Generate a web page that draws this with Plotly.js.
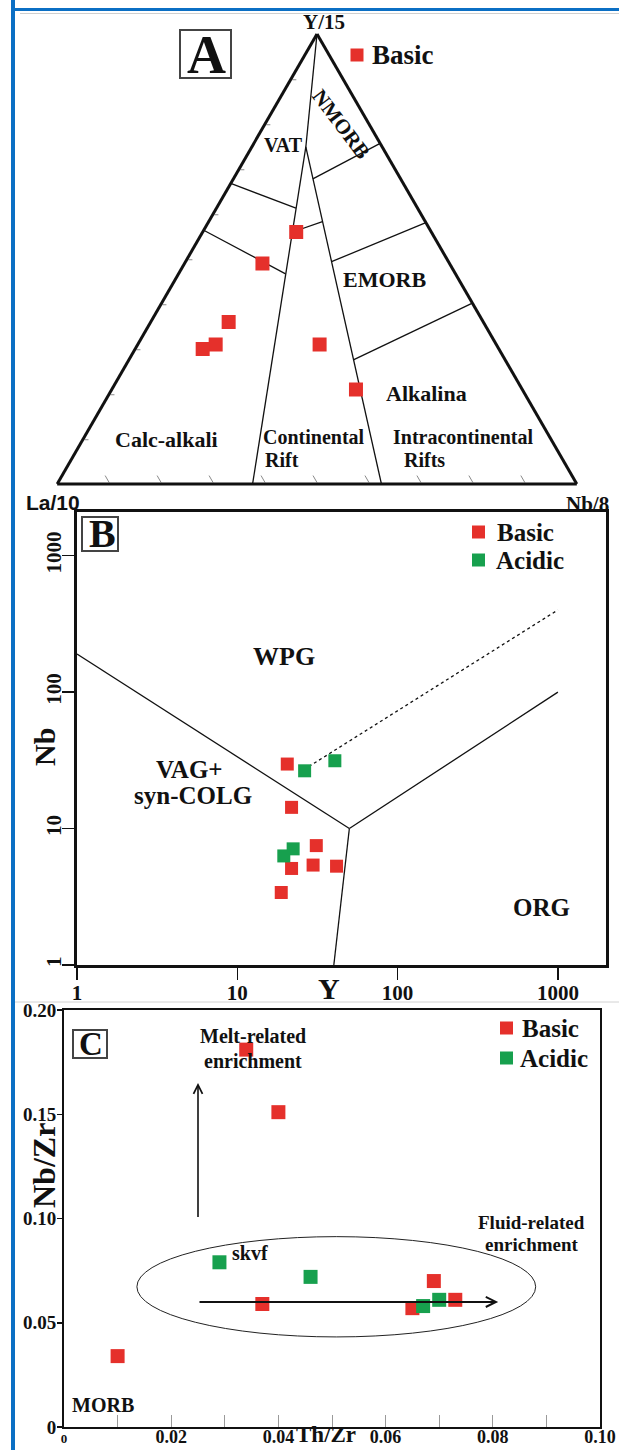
<!DOCTYPE html>
<html><head><meta charset="utf-8">
<script src="https://cdn.plot.ly/plotly-3.0.1.min.js"></script>
<style>html,body{margin:0;padding:0;background:#fff}</style>
</head><body><div id="chart" style="width:619px;height:1450px"></div>
<script>
// ---------- Panel A: La/10 - Y/15 - Nb/8 ternary (a = Y/15, b = La/10, c = Nb/8) ----------
const triBasicA = [0.56, 0.49, 0.36, 0.31, 0.30, 0.31, 0.21];
const triBasicB = [0.26, 0.36, 0.49, 0.54, 0.57, 0.34, 0.32];
const triBasicC = [0.18, 0.15, 0.15, 0.15, 0.13, 0.35, 0.47];
// field boundaries: each segment = [start [a,b,c], end [a,b,c]]
const triBoundaries = [
  [[1.000, 0.000, 0.000], [0.749, 0.147, 0.104]],
  [[0.749, 0.147, 0.104], [0.000, 0.624, 0.376]],
  [[0.749, 0.147, 0.104], [0.000, 0.376, 0.624]],
  [[0.757, 0.000, 0.243], [0.678, 0.169, 0.153]],
  [[0.668, 0.332, 0.000], [0.613, 0.234, 0.153]],
  [[0.560, 0.267, 0.173], [0.583, 0.198, 0.219]],
  [[0.581, 0.000, 0.419], [0.494, 0.225, 0.281]],
  [[0.564, 0.436, 0.000], [0.467, 0.327, 0.206]],
  [[0.402, 0.000, 0.598], [0.276, 0.292, 0.432]]
];

// ---------- Panel B: Nb vs Y (ppm), Pearce et al. ----------
const nbyBasicY   = [20.5, 21.8, 31.1, 29.7, 41.6, 21.8, 18.8];
const nbyBasicNb  = [29.7, 14.3, 7.5, 5.4, 5.3, 5.1, 3.4];
const nbyAcidicY  = [26.3, 40.6, 22.3, 19.5];
const nbyAcidicNb = [26.5, 31.4, 7.1, 6.3];
const wpgVagY = [1, 50],    wpgVagNb = [190, 10];
const wpgOrgY = [50, 1000], wpgOrgNb = [10, 100];
const vagOrgY = [50, 40],   vagOrgNb = [10, 1];
const dashY   = [26, 1000], dashNb   = [27, 400];
const bTicks = [1, 10, 100, 1000];
const bTickText = ['1', '10', '100', '1000'];

// ---------- Panel C: Nb/Zr vs Th/Zr ----------
const thzrBasic  = [0.034, 0.040, 0.010, 0.037, 0.065, 0.069, 0.073];
const nbzrBasic  = [0.181, 0.151, 0.034, 0.059, 0.057, 0.070, 0.061];
const thzrAcidic = [0.029, 0.046, 0.067, 0.070];
const nbzrAcidic = [0.079, 0.072, 0.058, 0.061];
const meltArrow  = {x: [0.025, 0.025], y: [0.100, 0.165]};
const fluidArrow = {x: [0.025, 0.081], y: [0.060, 0.060]};
const fluidEllipse = {x: [0.0136, 0.0880], y: [0.0432, 0.0913]};
const cXTicks = [0, 0.02, 0.04, 0.06, 0.08, 0.10];
const cXTickText = ["<span style='font-size:13px'>0</span>", '0.02', '0.04', '0.06', '0.08', '0.10'];
const cXMinor = [0.01, 0.03, 0.05, 0.07, 0.09];
const cYTicks = [0, 0.05, 0.10, 0.15, 0.20];
const cYTickText = ['0', '0.05', '0.10', '0.15', '0.20'];

// ---------- drawing ----------
const W = 619, H = 1450;
const px = x => x / W, py = y => 1 - y / H;
const SERIF = '"Liberation Serif", "Times New Roman", Times, serif';
const SANS = '"Liberation Sans", Arial, sans-serif';
const RED = '#e5302b', GREEN = '#17a04e', BLUE = '#0b6fc4', INK = '#111111';

const traces = [];
triBoundaries.forEach(seg => traces.push({
  type: 'scatterternary', mode: 'lines',
  a: [seg[0][0], seg[1][0]], b: [seg[0][1], seg[1][1]], c: [seg[0][2], seg[1][2]],
  line: {color: INK, width: 1.3}, hoverinfo: 'skip', showlegend: false
}));
traces.push({type: 'scatterternary', mode: 'markers', name: 'Basic',
  a: triBasicA, b: triBasicB, c: triBasicC,
  marker: {symbol: 'square', size: 14, color: RED, line: {width: 0}}, showlegend: false});

const bLine = (x, y, dash) => ({type: 'scatter', mode: 'lines', x, y, xaxis: 'x', yaxis: 'y',
  line: {color: INK, width: 1.3, dash: dash || 'solid'}, hoverinfo: 'skip', showlegend: false});
traces.push(bLine(wpgVagY, wpgVagNb), bLine(wpgOrgY, wpgOrgNb), bLine(vagOrgY, vagOrgNb), bLine(dashY, dashNb, 'dot'));
traces.push({type: 'scatter', mode: 'markers', name: 'Basic', x: nbyBasicY, y: nbyBasicNb, xaxis: 'x', yaxis: 'y',
  marker: {symbol: 'square', size: 13, color: RED, line: {width: 0}}, showlegend: false});
traces.push({type: 'scatter', mode: 'markers', name: 'Acidic', x: nbyAcidicY, y: nbyAcidicNb, xaxis: 'x', yaxis: 'y',
  marker: {symbol: 'square', size: 13, color: GREEN, line: {width: 0}}, showlegend: false});

traces.push({type: 'scatter', mode: 'markers', name: 'Basic', x: thzrBasic, y: nbzrBasic, xaxis: 'x2', yaxis: 'y2',
  marker: {symbol: 'square', size: 14, color: RED, line: {width: 0}}, showlegend: false});
traces.push({type: 'scatter', mode: 'markers', name: 'Acidic', x: thzrAcidic, y: nbzrAcidic, xaxis: 'x2', yaxis: 'y2',
  marker: {symbol: 'square', size: 14, color: GREEN, line: {width: 0}}, showlegend: false});

const tern = extra => Object.assign({showgrid: false, showticklabels: false, linewidth: 3, linecolor: INK,
  title: {text: ''}, dtick: 0.1, ticks: '', tickcolor: '#8a8a8a', tickwidth: 1}, extra);

const tickFont = size => ({family: SERIF, size, color: INK, weight: 'bold'});

function label(text, x, y, size, extra) {
  return Object.assign({text, x: px(x), y: py(y), xref: 'paper', yref: 'paper', showarrow: false,
    xanchor: 'center', yanchor: 'middle', font: {family: SERIF, size, color: INK, weight: 'bold'}}, extra || {});
}
function frame(x0, y0, x1, y1) {
  return {type: 'rect', xref: 'paper', yref: 'paper', x0: px(x0), x1: px(x1), y0: py(y1), y1: py(y0),
    line: {color: '#444', width: 2}, fillcolor: 'rgba(0,0,0,0)'};
}
function swatch(cx, cy, s, color) {
  return {type: 'rect', xref: 'paper', yref: 'paper', x0: px(cx - s / 2), x1: px(cx + s / 2),
    y0: py(cy + s / 2), y1: py(cy - s / 2), fillcolor: color, line: {width: 0}};
}

const shapes = [
  {type: 'rect', xref: 'paper', yref: 'paper', x0: px(11), x1: px(15), y0: 0, y1: 1, fillcolor: BLUE, line: {width: 0}},
  {type: 'rect', xref: 'paper', yref: 'paper', x0: px(11), x1: 1, y0: py(11), y1: py(8), fillcolor: BLUE, line: {width: 0}},
  {type: 'line', xref: 'paper', yref: 'paper', x0: px(20), x1: 1, y0: py(13.5), y1: py(13.5), line: {color: '#cfcfcf', width: 1}},
  {type: 'line', xref: 'paper', yref: 'paper', x0: px(15), x1: 1, y0: py(1002), y1: py(1002), line: {color: '#d2d2d2', width: 1}},
  frame(180, 30, 231, 78), frame(82, 517, 118, 551), frame(73, 1030, 107, 1058),
  swatch(357, 55, 13, RED),
  swatch(478.5, 532, 13, RED), swatch(478.5, 560, 13, GREEN),
  swatch(506.5, 1028, 13, RED), swatch(506.5, 1058, 13, GREEN),
  {type: 'circle', xref: 'x2', yref: 'y2', x0: fluidEllipse.x[0], x1: fluidEllipse.x[1],
    y0: fluidEllipse.y[0], y1: fluidEllipse.y[1], line: {color: '#222', width: 1}}
];

const annotations = [
  // panel A
  label('A', 206, 55, 54),
  label('Basic', 370, 55, 27, {xanchor: 'left'}),
  label('Y/15', 324, 22.5, 21),
  label('La/10', 53, 502, 21, {font: {family: SANS, size: 21, color: INK, weight: 'bold'}}),
  label('Nb/8', 587, 504, 21),
  label('VAT', 283, 145, 20),
  label('NMORB', 341, 124, 21, {textangle: 53}),
  label('EMORB', 384, 280, 22),
  label('Alkalina', 426, 394, 22),
  label('Calc-alkali', 166, 440, 22),
  label('Continental', 261, 437, 20, {xanchor: 'left'}),
  label('Rift', 263, 460, 20, {xanchor: 'left'}),
  label('Intracontinental', 463, 437, 20),
  label('Rifts', 424, 460, 20),
  // panel B
  label('B', 102, 534, 40),
  label('Basic', 495, 532, 25, {xanchor: 'left'}),
  label('Acidic', 494, 560, 25, {xanchor: 'left'}),
  label('WPG', 284, 657, 26),
  label('VAG+', 189, 770, 25),
  label('syn-COLG', 193, 795, 25),
  label('ORG', 541, 907, 25),
  label('Nb', 44, 747, 30, {textangle: -90}),
  label('Y', 329, 988, 30),
  // panel C
  label('C', 91, 1044, 33),
  label('Basic', 520, 1028, 25, {xanchor: 'left'}),
  label('Acidic', 518, 1058, 25, {xanchor: 'left'}),
  label('Melt-related', 253, 1036, 20),
  label('enrichment', 253, 1061, 20),
  label('Fluid-related', 531, 1222, 19),
  label('enrichment', 532, 1244, 19),
  label('skvf', 250, 1253, 20),
  label('MORB', 103, 1405, 20),
  label('Nb/Zr', 44, 1166, 32, {textangle: -90}),
  label('Th/Zr', 326, 1434, 23),
  // arrows in C
  {xref: 'x2', yref: 'y2', axref: 'x2', ayref: 'y2', x: meltArrow.x[1], y: meltArrow.y[1],
    ax: meltArrow.x[0], ay: meltArrow.y[0], text: '', showarrow: true, arrowhead: 5, arrowsize: 1.1,
    arrowwidth: 1.6, arrowcolor: INK},
  {xref: 'x2', yref: 'y2', axref: 'x2', ayref: 'y2', x: fluidArrow.x[1], y: fluidArrow.y[1],
    ax: fluidArrow.x[0], ay: fluidArrow.y[0], text: '', showarrow: true, arrowhead: 5, arrowsize: 1,
    arrowwidth: 2, arrowcolor: INK}
];

const layout = {
  width: W, height: H, margin: {l: 0, r: 0, t: 0, b: 0},
  paper_bgcolor: '#ffffff', plot_bgcolor: 'rgba(0,0,0,0)', showlegend: false,
  font: {family: SERIF, color: INK},
  ternary: {
    domain: {x: [px(57), px(577)], y: [py(484), py(34)]},
    sum: 1, bgcolor: 'rgba(0,0,0,0)',
    aaxis: tern({ticks: 'inside', ticklen: 4}),
    baxis: tern({ticks: 'inside', ticklen: 8}),
    caxis: tern({})
  },
  xaxis: {domain: [px(77), px(606)], anchor: 'y', type: 'log', range: [0, 3.3],
    tickmode: 'array', tickvals: bTicks, ticktext: bTickText, ticks: 'outside', ticklen: 12, tickwidth: 1.5,
    tickcolor: INK, ticklabelstandoff: -5, showline: true, mirror: true, linewidth: 3, linecolor: INK, showgrid: false,
    zeroline: false, tickfont: tickFont(21)},
  yaxis: {domain: [py(965), py(512)], anchor: 'x', type: 'log', range: [0, 3.32],
    tickmode: 'array', tickvals: bTicks, ticktext: bTickText, ticks: 'outside', ticklen: 12, tickwidth: 1.5,
    tickcolor: INK, tickangle: -90, ticklabelstandoff: -7, showline: true, mirror: true, linewidth: 3, linecolor: INK,
    showgrid: false, zeroline: false, tickfont: tickFont(21)},
  xaxis2: {domain: [px(64), px(600)], anchor: 'y2', range: [0, 0.1],
    tickmode: 'array', tickvals: cXTicks, ticktext: cXTickText, ticks: 'inside', ticklen: 12, tickwidth: 1,
    tickcolor: '#9a9a9a', ticklabelstandoff: -8,
    minor: {tickmode: 'array', tickvals: cXMinor, ticks: 'inside', ticklen: 12, tickcolor: '#9a9a9a', tickwidth: 1},
    showline: true, mirror: true, linewidth: 2, linecolor: INK, showgrid: false, zeroline: false,
    tickfont: tickFont(18)},
  yaxis2: {domain: [py(1427), py(1010)], anchor: 'x2', range: [0, 0.2],
    tickmode: 'array', tickvals: cYTicks, ticktext: cYTickText, ticks: 'outside', ticklen: 5, tickwidth: 1.5,
    tickcolor: INK, ticklabelstandoff: -3, showline: true, mirror: true, linewidth: 2, linecolor: INK, showgrid: false,
    zeroline: false, tickfont: tickFont(19)},
  shapes, annotations
};

Plotly.newPlot('chart', traces, layout, {displayModeBar: false, staticPlot: true});
</script></body></html>
